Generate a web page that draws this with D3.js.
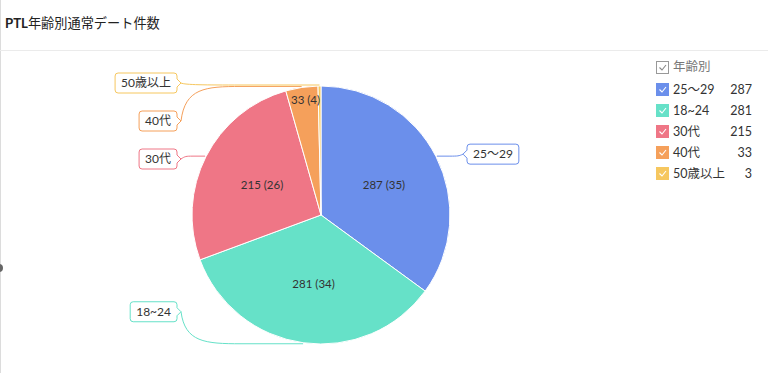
<!DOCTYPE html>
<html>
<head>
<meta charset="utf-8">
<script src="https://cdn.jsdelivr.net/npm/d3@7"></script>
<style>
  body { margin: 0; background: #fff; }
  svg { display: block; font-family: Lato, "Noto Sans CJK JP", sans-serif; }
</style>
</head>
<body>
<div id="chart"></div>
<script>
// data
var title = "年齢別通常デート件数";
var legendTitle = "年齢別";
var categories = ["25～29", "18~24", "30代", "40代", "50歳以上"];
var values = [287, 281, 215, 33, 3];
var colors = ["#6b8feb", "#66e1c8", "#ef7686", "#f5a05b", "#f6c75f"];

var W = 768, H = 373;
var cx = 321, cy = 215, R = 129;

var svg = d3.select("#chart").append("svg").attr("width", W).attr("height", H);

// frame
svg.append("line").attr("x1", 0.5).attr("x2", 0.5).attr("y1", 0).attr("y2", H)
  .attr("stroke", "#dcdcdc");
svg.append("line").attr("x1", 0).attr("x2", W).attr("y1", 50.5).attr("y2", 50.5)
  .attr("stroke", "#ebebeb");
svg.append("circle").attr("cx", -1).attr("cy", 268).attr("r", 4).attr("fill", "#666");

var t = svg.append("text").attr("x", 5).attr("y", 28).attr("font-size", 13.2).attr("fill", "#222");
t.append("tspan").attr("font-weight", "bold").text("PTL");
t.append("tspan").text(title);

var total = d3.sum(values);
var data = categories.map(function (c, i) { return { name: c, value: values[i], color: colors[i] }; });

var pie = d3.pie().sort(null).value(function (d) { return d.value; });
var arcs = pie(data);
var arc = d3.arc().innerRadius(0).outerRadius(R);

var g = svg.append("g").attr("transform", "translate(" + cx + "," + cy + ")");
g.selectAll("path.slice").data(arcs).enter().append("path")
  .attr("class", "slice")
  .attr("d", arc)
  .attr("fill", function (d) { return d.data.color; })
  .attr("stroke", "#fff").attr("stroke-width", 1);

// inner labels
g.selectAll("text.inner").data(arcs.filter(function (d) { return d.value / total > 0.01; }))
  .enter().append("text")
  .attr("class", "inner")
  .attr("transform", function (d) {
    var frac = d.value / total;
    var r = frac < 0.05 ? R * 0.91 : R * 0.53;
    var a = (d.startAngle + d.endAngle) / 2;
    return "translate(" + (Math.sin(a) * r + 2) + "," + (-Math.cos(a) * r + 1) + ")";
  })
  .attr("text-anchor", "middle").attr("dy", "0.35em")
  .attr("font-size", 11.5).attr("fill", "#333")
  .text(function (d) { return d.value + " (" + Math.round(d.value / total * 100) + ")"; });

// outer labels with connectors
var labels = arcs.map(function (d) {
  var a = (d.startAngle + d.endAngle) / 2;
  var ex = cx + Math.sin(a) * (R + 1), ey = cy - Math.cos(a) * (R + 1);
  return { d: d, ex: ex, ey: ey, right: ex > cx };
});
function layout(list) {
  list.sort(function (a, b) { return a.ey - b.ey; });
  var prev = -Infinity;
  list.forEach(function (l) {
    var y = Math.max(cy - R - 4, Math.min(cy + R * 0.75, l.ey - 2));
    y = Math.max(y, prev + 38);
    l.y = y; prev = y;
  });
}
layout(labels.filter(function (l) { return l.right; }));
layout(labels.filter(function (l) { return !l.right; }));

var lg = svg.append("g");
labels.forEach(function (l) {
  var col = l.d.data.color;
  var tx = lg.append("text").attr("font-size", 12).attr("fill", "#333")
    .attr("dy", "0.35em").text(l.d.data.name);
  var tw = tx.node().getComputedTextLength();
  var bw = tw + 12, bh = 20;
  var bx = l.right ? cx + R + 17 : cx - R - 15 - bw;
  var by = l.y - bh / 2;
  var sx = l.right ? bx - 4 : bx + bw + 4;
  var dir = l.right ? -1 : 1;
  // connector
  var p = d3.path();
  p.moveTo(sx, l.y);
  var span = Math.abs(l.ex - sx);
  var bend = Math.min(60, span * 0.5);
  p.bezierCurveTo(sx + dir * 4, l.y + (l.ey - l.y) * 0.95, sx + dir * bend * 0.4, l.ey, sx + dir * bend, l.ey);
  p.lineTo(l.ex, l.ey);
  lg.insert("path", "text").attr("d", p.toString()).attr("fill", "none")
    .attr("stroke", col).attr("stroke-width", 1);
  // box with pointer
  var b = d3.path();
  var r = 3, x0 = bx, x1 = bx + bw, y0 = by, y1 = by + bh;
  b.moveTo(x0 + r, y0);
  b.lineTo(x1 - r, y0);
  b.arcTo(x1, y0, x1, y0 + r, r);
  if (!l.right) { b.lineTo(x1, l.y - 4); b.lineTo(x1 + 4, l.y); b.lineTo(x1, l.y + 4); }
  b.lineTo(x1, y1 - r);
  b.arcTo(x1, y1, x1 - r, y1, r);
  b.lineTo(x0 + r, y1);
  b.arcTo(x0, y1, x0, y1 - r, r);
  if (l.right) { b.lineTo(x0, l.y + 4); b.lineTo(x0 - 4, l.y); b.lineTo(x0, l.y - 4); }
  b.lineTo(x0, y0 + r);
  b.arcTo(x0, y0, x0 + r, y0, r);
  b.closePath();
  lg.insert("path", "text").attr("d", b.toString()).attr("fill", "#fff")
    .attr("stroke", col).attr("stroke-width", 1);
  tx.attr("x", bx + 6).attr("y", l.y);
  tx.raise();
});

// legend
var leg = svg.append("g").attr("transform", "translate(656,0)");
function check(sel, x, y, fill, stroke, mark) {
  sel.append("rect").attr("x", x + 0.5).attr("y", y + 0.5).attr("width", 12).attr("height", 12)
    .attr("fill", fill).attr("stroke", stroke);
  sel.append("path").attr("d", "M" + (x + 3.5) + "," + (y + 6.5) + "l2.5,2.5l4,-5")
    .attr("fill", "none").attr("stroke", mark).attr("stroke-width", 1.1);
}
check(leg, 0, 61, "#fff", "#999", "#888");
leg.append("text").attr("x", 17).attr("y", 67).attr("dy", "0.35em")
  .attr("font-size", 12.5).attr("fill", "#777").text(legendTitle);
var ly = d3.scaleBand().domain(categories).range([79, 184]);
data.forEach(function (d) {
  var y = ly(d.name) + ly.bandwidth() / 2;
  check(leg, 0, y - 6.5, d.color, d.color, "#fff");
  leg.append("text").attr("x", 17).attr("y", y).attr("dy", "0.35em")
    .attr("font-size", 12.5).attr("fill", "#333").text(d.name);
  leg.append("text").attr("x", 96).attr("y", y).attr("dy", "0.35em")
    .attr("text-anchor", "end").attr("font-size", 12.5).attr("fill", "#333").text(d.value);
});
</script>
</body>
</html>
